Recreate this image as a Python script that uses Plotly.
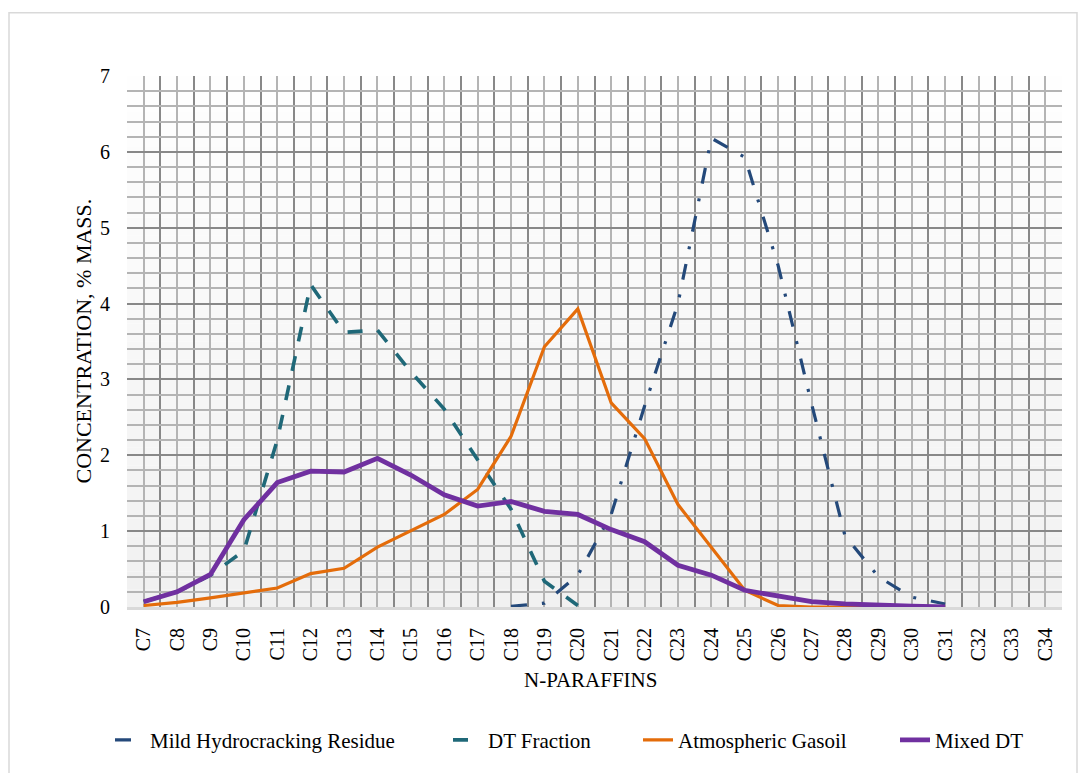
import plotly.graph_objects as go

# ---------------- data ----------------
categories = ["C7", "C8", "C9", "C10", "C11", "C12", "C13", "C14", "C15", "C16",
              "C17", "C18", "C19", "C20", "C21", "C22", "C23", "C24", "C25", "C26",
              "C27", "C28", "C29", "C30", "C31", "C32", "C33", "C34"]

mild_hydrocracking_residue = [None, None, None, None, None, None, None, None, None, None,
                              None, 0.01, 0.05, 0.42, 1.22, 2.65, 4.0, 6.18, 5.93, 4.5,
                              2.68, 0.94, 0.4, 0.13, 0.04, None, None, None]

dt_fraction = [0.07, 0.2, 0.42, 0.74, 2.2, 4.25, 3.62, 3.65, 3.1, 2.61,
               1.94, 1.29, 0.34, 0.02, None, None, None, None, None, None,
               None, None, None, None, None, None, None, None]

atmospheric_gasoil = [0.02, 0.06, 0.12, 0.18, 0.25, 0.44, 0.51, 0.79, 1.0, 1.22,
                      1.55, 2.25, 3.43, 3.93, 2.69, 2.22, 1.35, 0.78, 0.22, 0.02,
                      0.0, 0.0, 0.0, 0.0, 0.0, None, None, None]

mixed_dt = [0.07, 0.2, 0.43, 1.15, 1.64, 1.79, 1.78, 1.96, 1.74, 1.48,
            1.33, 1.39, 1.26, 1.22, 1.02, 0.86, 0.55, 0.42, 0.22, 0.14,
            0.07, 0.04, 0.02, 0.01, 0.0, None, None, None]

y_ticks = [0, 1, 2, 3, 4, 5, 6, 7]

# ---------------- styles ----------------
FONT = "Liberation Serif, Times New Roman, serif"
C_BLUE = "#24497a"
C_TEAL = "#1f6878"
C_ORANGE = "#e46c0a"
C_PURPLE = "#7030a0"
MAJOR_GRID = "#888888"
MINOR_GRID = "#b4b4b4"

W, H = 1080, 773
L, R, T, B = 127, 18, 76, 159
pw, ph = W - L - R, H - T - B


def px_x(p):
    return (p - L) / pw


def px_y(p):
    return (T + ph - p) / ph


xs = list(range(len(categories)))

fig = go.Figure()
fig.add_trace(go.Scatter(x=xs, y=mild_hydrocracking_residue, mode="lines",
                         name="Mild Hydrocracking Residue", legend="legend",
                         line=dict(color=C_BLUE, width=3.2, dash="16px,15px,3px,15px")))
fig.add_trace(go.Scatter(x=xs, y=dt_fraction, mode="lines", name="DT Fraction",
                         legend="legend2",
                         line=dict(color=C_TEAL, width=3.6, dash="15px,15px")))
fig.add_trace(go.Scatter(x=xs, y=atmospheric_gasoil, mode="lines", name="Atmospheric Gasoil",
                         legend="legend3",
                         line=dict(color=C_ORANGE, width=3.2)))
fig.add_trace(go.Scatter(x=xs, y=mixed_dt, mode="lines", name="Mixed DT",
                         legend="legend4",
                         line=dict(color=C_PURPLE, width=4.8)))

# plot-area vertical gradient (white -> light gray), drawn below grid
n_bands = 30
shapes = []
for i in range(n_bands):
    f = i / (n_bands - 1)
    v = int(round(241 + (254 - 241) * f))
    shapes.append(dict(type="rect", xref="paper", yref="paper",
                       x0=0, x1=1, y0=i / n_bands, y1=(i + 1) / n_bands,
                       fillcolor=f"rgb({v},{v},{v})", line=dict(width=0), layer="below"))
# outer chart border
shapes.append(dict(type="rect", xref="paper", yref="paper",
                   x0=px_x(9), x1=px_x(1077), y0=px_y(790), y1=px_y(12),
                   line=dict(color="#d9d9d9", width=1.5), fillcolor="rgba(0,0,0,0)",
                   layer="below"))


def legend_at(left_px):
    return dict(orientation="h", x=px_x(left_px), xanchor="left",
                y=px_y(749), yanchor="middle",
                font=dict(family=FONT, size=21, color="black"),
                bgcolor="rgba(0,0,0,0)")


fig.update_layout(
    width=W, height=H,
    margin=dict(l=L, r=R, t=T, b=B),
    paper_bgcolor="white",
    plot_bgcolor="rgba(0,0,0,0)",
    font=dict(family=FONT, size=20, color="black"),
    shapes=shapes,
    showlegend=True,
    legend=legend_at(110),
    legend2=legend_at(448),
    legend3=legend_at(638),
    legend4=legend_at(895),
    annotations=[
        dict(text="N-PARAFFINS", xref="paper", yref="paper",
             x=px_x(590), y=px_y(688), xanchor="center", yanchor="middle",
             showarrow=False, font=dict(family=FONT, size=21, color="black")),
        dict(text="CONCENTRATION, % MASS.", xref="paper", yref="paper",
             x=px_x(83), y=0.5, xanchor="center", yanchor="middle", textangle=-90,
             showarrow=False, font=dict(family=FONT, size=22, color="black")),
    ],
)

fig.update_xaxes(
    range=[-0.5, len(categories) - 0.5],
    tickmode="array", tickvals=xs, ticktext=categories, tickangle=-90,
    ticks="", ticklabelstandoff=10,
    showgrid=True, gridcolor=MINOR_GRID, gridwidth=2,
    minor=dict(tickmode="array", tickvals=[i - 0.5 for i in range(len(categories) + 1)],
               showgrid=True, gridcolor=MAJOR_GRID, gridwidth=2, ticks=""),
    showline=True, linecolor="#d9d9d9", linewidth=3,
    zeroline=False, fixedrange=True, automargin=False,
    tickfont=dict(family=FONT, size=20, color="black"),
)
fig.update_yaxes(
    range=[0, 7], tickmode="array", tickvals=y_ticks, ticktext=[str(v) for v in y_ticks],
    ticks="", ticklabelstandoff=16,
    showgrid=True, gridcolor=MAJOR_GRID, gridwidth=2,
    minor=dict(dtick=0.2, tick0=0, showgrid=True, gridcolor=MINOR_GRID, gridwidth=2, ticks=""),
    showline=False, zeroline=False, fixedrange=True, automargin=False,
    tickfont=dict(family=FONT, size=20, color="black"),
)

fig.write_html("out.html", config={"displayModeBar": False},
               post_script="document.body.style.margin='0';")
